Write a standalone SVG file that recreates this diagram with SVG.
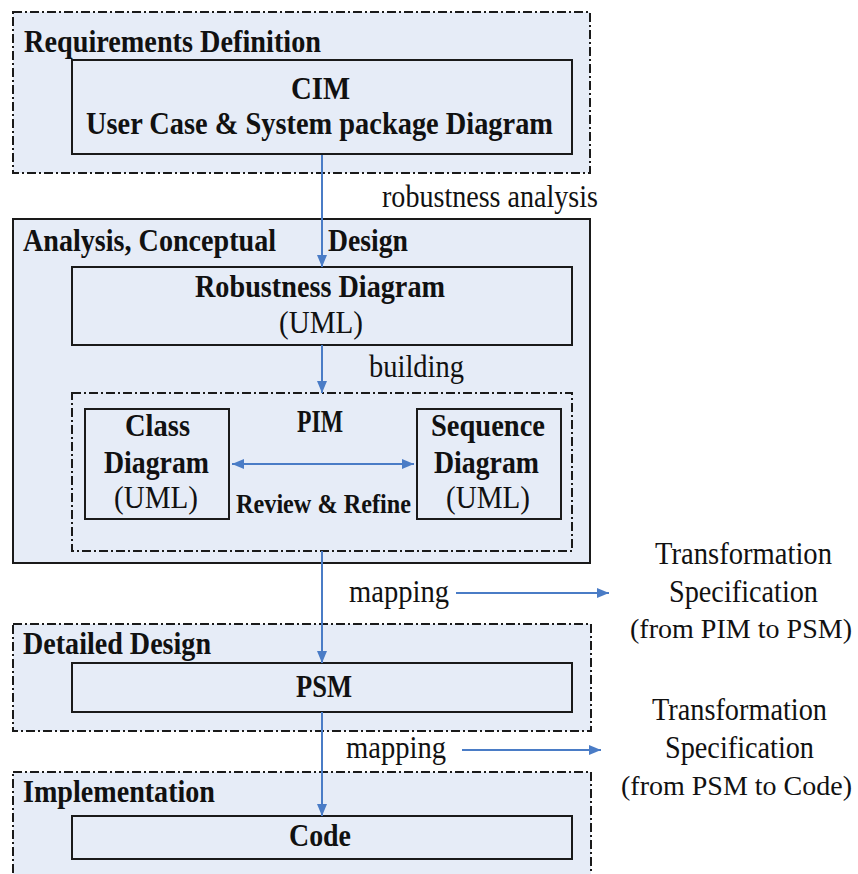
<svg xmlns="http://www.w3.org/2000/svg" width="858" height="874" viewBox="0 0 858 874">
<style>
.zone{fill:#e6ecf7;stroke:#1a1a1a;stroke-width:2}
.dash{stroke-dasharray:9 3 2 3}
.box{fill:#e6ecf7;stroke:#1a1a1a;stroke-width:2}
.b{font-family:"Liberation Serif","Times New Roman",serif;font-weight:bold;font-size:32px;fill:#111}
.r{font-family:"Liberation Serif","Times New Roman",serif;font-size:31px;fill:#111}
.s{font-family:"Liberation Serif","Times New Roman",serif;font-size:28px;fill:#111;text-anchor:end}
.c{fill:none;stroke:#4a7cc6;stroke-width:2}
</style>
<defs>
<marker id="ah" viewBox="0 0 12 10" refX="12" refY="5" markerWidth="12" markerHeight="10" markerUnits="userSpaceOnUse" orient="auto-start-reverse">
<path d="M0,0 L12,5 L0,10 z" fill="#4a7cc6"/>
</marker>
</defs>
<rect width="858" height="874" fill="#fff"/>

<g id="requirements">
<rect class="zone dash" x="13" y="12" width="577" height="161"/>
<text class="b" x="24" y="52" textLength="297" lengthAdjust="spacingAndGlyphs">Requirements Definition</text>
</g>
<g id="cim">
<rect class="box" x="72" y="60" width="500" height="94"/>
<text class="b" x="291" y="99" textLength="59" lengthAdjust="spacingAndGlyphs">CIM</text>
<text class="b" x="86" y="134" textLength="467" lengthAdjust="spacingAndGlyphs">User Case &amp; System package Diagram</text>
</g>

<g id="analysis">
<rect class="zone" x="13" y="219" width="577" height="344"/>
<text class="b" x="23" y="251" textLength="253" lengthAdjust="spacingAndGlyphs">Analysis, Conceptual</text>
<text class="b" x="328" y="251" textLength="80" lengthAdjust="spacingAndGlyphs">Design</text>
</g>
<g id="robustness">
<rect class="box" x="72" y="267" width="500" height="78"/>
<text class="b" x="195" y="297" textLength="250" lengthAdjust="spacingAndGlyphs">Robustness Diagram</text>
<text class="r" x="279" y="333" textLength="84" lengthAdjust="spacingAndGlyphs">(UML)</text>
</g>
<g id="pim">
<rect class="box dash" x="72" y="393" width="500" height="158"/>
<text class="b" x="297" y="432" textLength="46" lengthAdjust="spacingAndGlyphs">PIM</text>
<text class="b" x="236" y="513" textLength="175" lengthAdjust="spacingAndGlyphs" style="font-size:27px">Review &amp; Refine</text>
</g>
<g id="class">
<rect class="box" x="85" y="409" width="144" height="110"/>
<text class="b" x="125" y="436" textLength="65" lengthAdjust="spacingAndGlyphs">Class</text>
<text class="b" x="104" y="473" textLength="105" lengthAdjust="spacingAndGlyphs">Diagram</text>
<text class="r" x="114" y="508" textLength="84" lengthAdjust="spacingAndGlyphs">(UML)</text>
</g>
<g id="sequence">
<rect class="box" x="417" y="409" width="144" height="110"/>
<text class="b" x="431" y="436" textLength="114" lengthAdjust="spacingAndGlyphs">Sequence</text>
<text class="b" x="434" y="473" textLength="105" lengthAdjust="spacingAndGlyphs">Diagram</text>
<text class="r" x="446" y="508" textLength="84" lengthAdjust="spacingAndGlyphs">(UML)</text>
</g>

<g id="detailed">
<rect class="zone dash" x="13" y="624" width="578" height="107"/>
<text class="b" x="23" y="654" textLength="188" lengthAdjust="spacingAndGlyphs">Detailed Design</text>
</g>
<g id="psm">
<rect class="box" x="72" y="663" width="500" height="49"/>
<text class="b" x="296" y="697" textLength="56" lengthAdjust="spacingAndGlyphs">PSM</text>
</g>

<g id="implementation">
<rect class="zone dash" x="13" y="772" width="578" height="110"/>
<text class="b" x="23" y="802" textLength="192" lengthAdjust="spacingAndGlyphs">Implementation</text>
</g>
<g id="code">
<rect class="box" x="72" y="816" width="500" height="43"/>
<text class="b" x="289" y="846" textLength="62" lengthAdjust="spacingAndGlyphs">Code</text>
</g>

<g id="spec1">
<text class="r" x="655" y="564" textLength="177" lengthAdjust="spacingAndGlyphs">Transformation</text>
<text class="r" x="669" y="602" textLength="149" lengthAdjust="spacingAndGlyphs">Specification</text>
<text class="s" x="852" y="638" textLength="222" lengthAdjust="spacingAndGlyphs">(from PIM to PSM)</text>
</g>
<g id="spec2">
<text class="r" x="652" y="720" textLength="175" lengthAdjust="spacingAndGlyphs">Transformation</text>
<text class="r" x="665" y="758" textLength="149" lengthAdjust="spacingAndGlyphs">Specification</text>
<text class="s" x="852" y="795" textLength="231" lengthAdjust="spacingAndGlyphs">(from PSM to Code)</text>
</g>

<g id="connectors">
<line class="c" x1="322" y1="155" x2="322" y2="267" marker-end="url(#ah)"/>
<text class="r" x="382" y="207" textLength="216" lengthAdjust="spacingAndGlyphs">robustness analysis</text>
<line class="c" x1="322" y1="345" x2="322" y2="393" marker-end="url(#ah)"/>
<text class="r" x="369" y="377" textLength="95" lengthAdjust="spacingAndGlyphs">building</text>
<line class="c" x1="232" y1="464" x2="414" y2="464" marker-start="url(#ah)" marker-end="url(#ah)"/>
<line class="c" x1="322" y1="551" x2="322" y2="663" marker-end="url(#ah)"/>
<line class="c" x1="322" y1="712" x2="322" y2="816" marker-end="url(#ah)"/>
<text class="r" x="349" y="602" textLength="100" lengthAdjust="spacingAndGlyphs">mapping</text>
<line class="c" x1="456" y1="593" x2="609" y2="593" marker-end="url(#ah)"/>
<text class="r" x="346" y="758" textLength="100" lengthAdjust="spacingAndGlyphs">mapping</text>
<line class="c" x1="462" y1="750" x2="601" y2="750" marker-end="url(#ah)"/>
</g>
</svg>
